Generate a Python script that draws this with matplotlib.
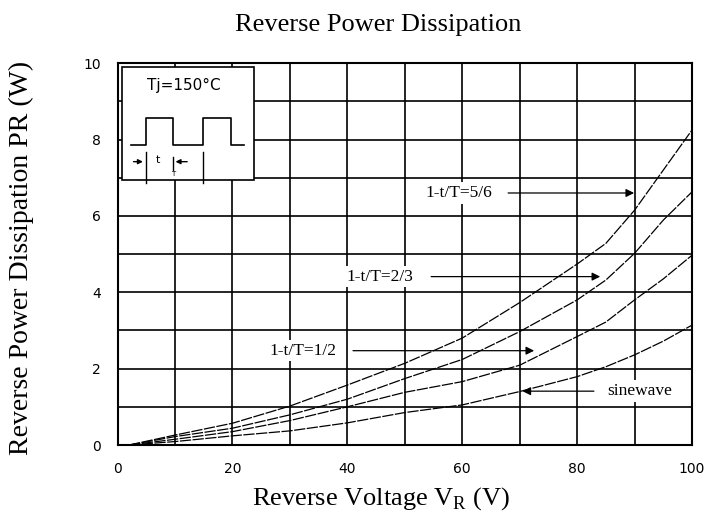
import matplotlib.pyplot as plt
import numpy as np

# reverse voltage (V)
vr = [2, 10, 20, 30, 40, 50, 60, 70, 80, 85, 90, 95, 100]

# reverse power dissipation (W) for each duty
p_56 = [0, 0.26, 0.57, 1.02, 1.57, 2.14, 2.80, 3.73, 4.74, 5.28, 6.15, 7.20, 8.25]
p_23 = [0, 0.22, 0.44, 0.79, 1.20, 1.74, 2.24, 2.97, 3.80, 4.32, 5.02, 5.89, 6.63]
p_12 = [0, 0.15, 0.35, 0.64, 1.00, 1.38, 1.66, 2.09, 2.84, 3.22, 3.80, 4.35, 4.97]
p_sine = [0, 0.09, 0.24, 0.37, 0.58, 0.85, 1.05, 1.40, 1.79, 2.05, 2.36, 2.72, 3.14]

# square wave in the inset (time, level)
wave_t = [2.3, 4.9, 4.9, 9.6, 9.6, 14.8, 14.8, 19.7, 19.7, 22.0]
wave_y = [7.85, 7.85, 8.57, 8.57, 7.85, 7.85, 8.57, 8.57, 7.85, 7.85]

serif = "Liberation Serif"

fig = plt.figure(figsize=(7.04, 5.22), dpi=100)
ax = fig.add_axes((0.167, 0.1475, 0.816, 0.7315))

ax.set_xlim(0, 100)
ax.set_ylim(0, 10)
ax.set_xticks(np.arange(0, 101, 20))
ax.set_yticks(np.arange(0, 11, 2))
ax.set_xticks(np.arange(0, 101, 10), minor=True)
ax.set_yticks(np.arange(0, 11, 1), minor=True)
ax.grid(True, which="both", color="black", linewidth=1.2)
ax.set_axisbelow(True)
ax.tick_params(which="both", length=0, labelsize=10, pad=12)
for sp in ax.spines.values():
    sp.set_linewidth(1.5)

for ys in [p_56, p_23, p_12, p_sine]:
    ax.plot(vr, ys, color="black", linewidth=0.9, dashes=(9, 1.2), zorder=3)

# labels with arrows
lab = dict(fontsize=12.5, family=serif, va="center", zorder=5,
           bbox=dict(facecolor="white", edgecolor="none", pad=2))
arr = dict(arrowstyle="-|>", color="black", lw=0.9, mutation_scale=12)

ax.text(53.6, 6.6, "1-t/T=5/6", ha="left", **lab)
ax.annotate("", xy=(90.4, 6.6), xytext=(67.5, 6.6), arrowprops=arr, zorder=5)
ax.text(51.5, 4.41, "1-t/T=2/3", ha="right", **lab)
ax.annotate("", xy=(84.5, 4.41), xytext=(54.1, 4.41), arrowprops=arr, zorder=5)
ax.text(26.4, 2.47, "1-t/T=1/2", ha="left", **lab)
ax.annotate("", xy=(73.0, 2.47), xytext=(40.5, 2.47), arrowprops=arr, zorder=5)
ax.text(85.2, 1.41, "sinewave", ha="left", **lab)
ax.annotate("", xy=(70.0, 1.41), xytext=(83.4, 1.41), arrowprops=arr, zorder=5)

# inset box with the pulse waveform
ax.add_patch(plt.Rectangle((0.8, 6.94), 22.9, 2.96, facecolor="white",
                           edgecolor="black", linewidth=1.2, zorder=4))
ax.text(11.5, 9.42, "Tj=150°C", ha="center", va="center", fontsize=11,
        family="DejaVu Sans", zorder=5)
ax.plot(wave_t, wave_y, color="black", linewidth=1.2, zorder=5)
ax.plot([4.9, 4.9], [6.86, 7.68], color="black", linewidth=1.0, zorder=5)
ax.plot([9.6, 9.6], [7.2, 7.55], color="black", linewidth=1.0, zorder=5)
ax.plot([14.8, 14.8], [6.86, 7.68], color="black", linewidth=1.0, zorder=5)
ax.annotate("", xy=(4.9, 7.42), xytext=(2.3, 7.42),
            arrowprops=dict(arrowstyle="-|>", color="black", lw=1.0, mutation_scale=7), zorder=5)
ax.annotate("", xy=(9.6, 7.42), xytext=(12.6, 7.42),
            arrowprops=dict(arrowstyle="-|>", color="black", lw=1.0, mutation_scale=7), zorder=5)
ax.text(7.1, 7.47, "t", ha="center", va="center", fontsize=8, family="DejaVu Sans", zorder=5)
ax.text(9.6, 7.1, "T", ha="center", va="center", fontsize=5, family="DejaVu Sans", zorder=5)

fig.text(0.537, 0.952, "Reverse Power Dissipation", ha="center", va="center",
         fontsize=19, family=serif)
fig.text(0.541, 0.045, "Reverse Voltage V$_\\mathregular{R}$ (V)", ha="center",
         va="center", fontsize=19, family=serif)
fig.text(0.030, 0.505, "Reverse Power Dissipation PR (W)", ha="center", va="center",
         rotation=90, fontsize=20, family=serif)

fig.savefig("out.png", dpi=100)
